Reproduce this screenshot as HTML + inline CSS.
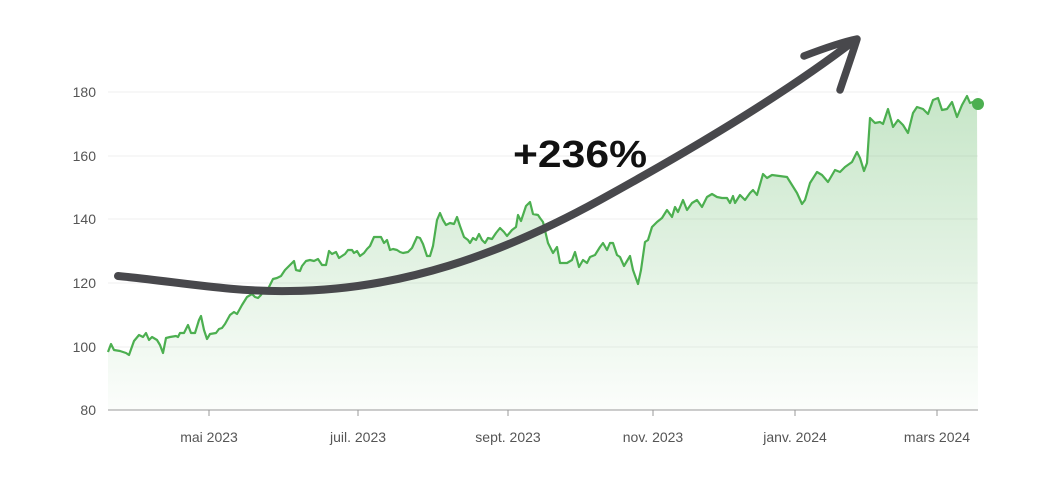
<!DOCTYPE html>
<html><head><meta charset="utf-8"><style>
html,body{margin:0;padding:0;background:#fff;}
svg{display:block;font-family:"Liberation Sans",Arial,sans-serif;}
</style></head><body>
<svg width="1052" height="484" viewBox="0 0 1052 484">
<defs>
<linearGradient id="g" x1="0" y1="90" x2="0" y2="410" gradientUnits="userSpaceOnUse">
<stop offset="0" stop-color="#4caf50" stop-opacity="0.32"/>
<stop offset="1" stop-color="#4caf50" stop-opacity="0.02"/>
</linearGradient>
</defs>
<g stroke="#efefef" stroke-width="1">
<line x1="108" y1="92" x2="978" y2="92"/>
<line x1="108" y1="156" x2="978" y2="156"/>
<line x1="108" y1="219" x2="978" y2="219"/>
<line x1="108" y1="283" x2="978" y2="283"/>
<line x1="108" y1="347" x2="978" y2="347"/>
</g>
<g fill="#555" font-size="14" text-anchor="end">
<text x="96" y="97">180</text>
<text x="96" y="161">160</text>
<text x="96" y="224">140</text>
<text x="96" y="288">120</text>
<text x="96" y="352">100</text>
<text x="96" y="415">80</text>
</g>
<polygon fill="url(#g)" points="108,410 108,352 111,344 114,350 120,351 126,353 129,355 134,341 139,335 143,337 146,333 149,340 152,337 157,340 160,345 163,353 166,338 170,337 176,336 178,337 180,333 184,333 188,325 191,333 195,333 199,320 201,316 204,330 207,339 210,334 216,333 219,329 222,328 225,324 230,315 234,312 237,314 242,305 247,297 252,294 255,297 258,298 261,295 265,288 268,289 273,279 277,278 281,276 285,270 290,265 294,261 296,270 300,271 302,266 306,261 310,260 314,261 318,259 322,265 326,265 329,251 332,254 336,252 339,258 342,256 345,254 348,250 352,250 354,253 357,251 360,256 364,253 367,249 370,246 374,237 378,237 381,237 384,243 387,240 390,250 393,249 397,250 400,252 403,253 408,252 412,248 417,237 420,238 423,244 427,256 430,256 433,246 437,220 440,213 443,220 446,225 450,223 454,224 457,217 460,226 464,237 468,240 470,243 473,238 476,240 479,234 482,240 485,243 488,238 492,239 496,233 500,228 504,232 507,236 512,230 516,227 518,215 521,221 526,206 530,202 533,214 538,215 540,218 543,222 548,243 553,253 557,247 560,263 567,263 572,260 575,252 579,267 583,260 587,263 590,257 595,255 600,247 603,243 607,250 610,243 613,243 617,255 620,257 624,266 630,256 633,270 638,284 641,270 645,242 648,240 652,227 657,222 662,218 667,210 672,217 675,207 678,212 683,200 687,210 692,203 697,200 702,207 707,197 712,194 717,197 722,198 727,198 730,203 733,196 735,203 740,195 745,200 750,193 753,190 757,195 763,174 767,178 772,175 787,177 792,185 797,193 802,204 805,200 810,183 817,172 822,175 828,182 835,170 840,172 845,167 852,162 857,152 860,158 864,171 867,163 870,118 875,123 880,122 883,124 888,109 893,127 898,120 903,125 908,133 913,113 917,107 923,109 928,114 933,100 938,98 942,110 947,109 952,102 957,117 962,105 967,96 970,103 973,102 977,104 978,410"/>
<polyline fill="none" stroke="#4caf50" stroke-width="2.2" stroke-linejoin="round" points="108,352 111,344 114,350 120,351 126,353 129,355 134,341 139,335 143,337 146,333 149,340 152,337 157,340 160,345 163,353 166,338 170,337 176,336 178,337 180,333 184,333 188,325 191,333 195,333 199,320 201,316 204,330 207,339 210,334 216,333 219,329 222,328 225,324 230,315 234,312 237,314 242,305 247,297 252,294 255,297 258,298 261,295 265,288 268,289 273,279 277,278 281,276 285,270 290,265 294,261 296,270 300,271 302,266 306,261 310,260 314,261 318,259 322,265 326,265 329,251 332,254 336,252 339,258 342,256 345,254 348,250 352,250 354,253 357,251 360,256 364,253 367,249 370,246 374,237 378,237 381,237 384,243 387,240 390,250 393,249 397,250 400,252 403,253 408,252 412,248 417,237 420,238 423,244 427,256 430,256 433,246 437,220 440,213 443,220 446,225 450,223 454,224 457,217 460,226 464,237 468,240 470,243 473,238 476,240 479,234 482,240 485,243 488,238 492,239 496,233 500,228 504,232 507,236 512,230 516,227 518,215 521,221 526,206 530,202 533,214 538,215 540,218 543,222 548,243 553,253 557,247 560,263 567,263 572,260 575,252 579,267 583,260 587,263 590,257 595,255 600,247 603,243 607,250 610,243 613,243 617,255 620,257 624,266 630,256 633,270 638,284 641,270 645,242 648,240 652,227 657,222 662,218 667,210 672,217 675,207 678,212 683,200 687,210 692,203 697,200 702,207 707,197 712,194 717,197 722,198 727,198 730,203 733,196 735,203 740,195 745,200 750,193 753,190 757,195 763,174 767,178 772,175 787,177 792,185 797,193 802,204 805,200 810,183 817,172 822,175 828,182 835,170 840,172 845,167 852,162 857,152 860,158 864,171 867,163 870,118 875,123 880,122 883,124 888,109 893,127 898,120 903,125 908,133 913,113 917,107 923,109 928,114 933,100 938,98 942,110 947,109 952,102 957,117 962,105 967,96 970,103 973,102 977,104"/>
<circle cx="978" cy="104" r="6" fill="#4caf50"/>
<line x1="108" y1="410" x2="978" y2="410" stroke="#999" stroke-width="1"/>
<g stroke="#999" stroke-width="1">
<line x1="209" y1="410" x2="209" y2="416"/><line x1="358" y1="410" x2="358" y2="416"/>
<line x1="508" y1="410" x2="508" y2="416"/><line x1="653" y1="410" x2="653" y2="416"/>
<line x1="795" y1="410" x2="795" y2="416"/><line x1="937" y1="410" x2="937" y2="416"/>
</g>
<g fill="#555" font-size="14" text-anchor="middle">
<text x="209" y="442">mai 2023</text><text x="358" y="442">juil. 2023</text>
<text x="508" y="442">sept. 2023</text><text x="653" y="442">nov. 2023</text>
<text x="795" y="442">janv. 2024</text><text x="937" y="442">mars 2024</text>
</g>
<path d="M118,276 C180,282 230,292 290,291 C400,290 500,255 600,200 C700,145 790,90 855,40" fill="none" stroke="#48484c" stroke-width="8" stroke-linecap="round"/>
<path d="M804,56 C825,48 842,42 857,39 C852,55 846,72 840,90" fill="none" stroke="#48484c" stroke-width="7.5" stroke-linecap="round" stroke-linejoin="round"/>
<text x="513" y="167" font-size="38" font-weight="bold" fill="#111" textLength="134" lengthAdjust="spacingAndGlyphs">+236%</text>
</svg>
</body></html>
